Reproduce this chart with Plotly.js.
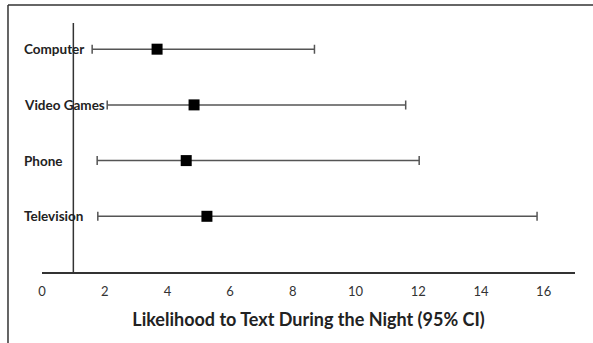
<!DOCTYPE html>
<html>
<head>
<meta charset="utf-8">
<script src="https://cdn.plot.ly/plotly-3.0.1.min.js"></script>
<style>html,body{margin:0;padding:0;background:#fff;}#chart{width:593px;height:343px;}</style>
</head>
<body>
<div id="chart"></div>
<script>
var categories = ["Computer", "Video Games", "Phone", "Television"];
var yPositions = [4, 3, 2, 1];
var estimates = [3.67, 4.85, 4.60, 5.26];
var ciLow = [1.60, 2.08, 1.76, 1.78];
var ciHigh = [8.69, 11.60, 12.03, 15.79];
var xTicks = [0, 2, 4, 6, 8, 10, 12, 14, 16];
var referenceValue = 1;

var plus = estimates.map(function (v, i) { return ciHigh[i] - v; });
var minus = estimates.map(function (v, i) { return v - ciLow[i]; });

var trace = {
  type: "scatter",
  mode: "markers",
  x: estimates,
  y: yPositions,
  marker: { symbol: "square", size: 11, color: "#000" },
  error_x: {
    type: "data", symmetric: false, array: plus, arrayminus: minus,
    color: "#555", thickness: 1.5, width: 4.5
  },
  hoverinfo: "skip"
};

var annotations = categories.map(function (c, i) {
  return {
    text: "<b>" + c + "</b>", x: -0.038, xref: "paper", y: yPositions[i], yref: "y",
    xanchor: "left", yanchor: "middle", showarrow: false,
    font: { family: "Lato, sans-serif", size: 13.5, color: "#222" }
  };
});

var layout = {
  width: 593, height: 343,
  margin: { l: 42, r: 18, t: 23, b: 71 },
  paper_bgcolor: "#fff", plot_bgcolor: "#fff",
  showlegend: false,
  font: { family: "Lato, sans-serif", color: "#333" },
  xaxis: {
    range: [0, 17], tickvals: xTicks, ticktext: xTicks.map(String),
    showgrid: false, zeroline: false, showline: true, linecolor: "#333", linewidth: 1.5,
    ticks: "outside", ticklen: 7, tickcolor: "rgba(0,0,0,0)",
    tickfont: { family: "Lato, sans-serif", size: 13, color: "#333" },
    title: { text: "<b>Likelihood to Text During the Night (95% CI)</b>", standoff: 15,
             font: { family: "Lato, sans-serif", size: 18, color: "#222" } },
    fixedrange: true
  },
  yaxis: {
    range: [0, 4.47], showgrid: false, zeroline: false, showline: false,
    showticklabels: false, ticks: "", fixedrange: true
  },
  shapes: [
    { type: "line", xref: "x", yref: "paper", x0: referenceValue, x1: referenceValue, y0: 0, y1: 1,
      line: { color: "#333", width: 1.5 } },
    { type: "line", xref: "paper", yref: "paper", x0: -0.0638, x1: 1.05, y0: 1.072, y1: 1.072,
      line: { color: "#333", width: 1.5 } },
    { type: "line", xref: "paper", yref: "paper", x0: -0.0638, x1: -0.0638, y0: 1.072, y1: -0.3,
      line: { color: "#333", width: 1.5 } }
  ],
  annotations: annotations
};

Plotly.newPlot("chart", [trace], layout, { displayModeBar: false, staticPlot: true });
</script>
</body>
</html>
